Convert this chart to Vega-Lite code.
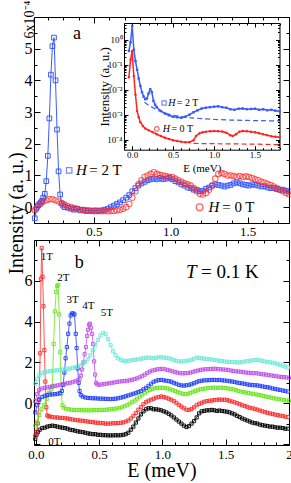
{
"$schema":"https://vega.github.io/schema/vega-lite/v6.json",
"background":"white",
"padding":{"left":5,"top":0,"right":0,"bottom":0},
"spacing":17,
"bounds":"flush",
"config":{
 "font":"Liberation Serif",
 "view":{"stroke":null},
 "axis":{"grid":false,"domainColor":"#000","domainWidth":1,"tickColor":"#000","tickWidth":1,"labelColor":"#000","titleColor":"#000","labelFont":"Liberation Serif","titleFont":"Liberation Serif","titleFontWeight":"normal","labelOverlap":false,"labelFlush":false},
 "text":{"font":"Liberation Serif","color":"#000"}
},
"datasets":{
 "a2T":[
  {"E":0.115,"I":-0.35},{"E":0.125,"I":-0.05},{"E":0.135,"I":0.05},{"E":0.145,"I":0.1},{"E":0.155,"I":0.15},{"E":0.163,"I":0.2},{"E":0.17,"I":0.3},{"E":0.18,"I":0.42},{"E":0.19,"I":0.82},{"E":0.2,"I":1.62},{"E":0.21,"I":2.8},{"E":0.22,"I":4.18},{"E":0.23,"I":5.08},{"E":0.24,"I":5.35},{"E":0.25,"I":4.0},{"E":0.26,"I":2.45},{"E":0.27,"I":1.13},{"E":0.28,"I":0.4},{"E":0.29,"I":0.12},{"E":0.3,"I":0.05},
  {"E":0.31,"I":0.0},{"E":0.33,"I":-0.02},{"E":0.35,"I":-0.05},{"E":0.37,"I":-0.08},{"E":0.39,"I":-0.05},{"E":0.41,"I":-0.1},{"E":0.43,"I":-0.08},{"E":0.45,"I":-0.12},{"E":0.47,"I":-0.1},{"E":0.49,"I":-0.12},{"E":0.51,"I":-0.1},{"E":0.53,"I":-0.12},{"E":0.55,"I":-0.1},{"E":0.57,"I":-0.08},{"E":0.59,"I":-0.05},{"E":0.61,"I":0.0},{"E":0.63,"I":0.05},{"E":0.65,"I":0.1},{"E":0.67,"I":0.15},{"E":0.69,"I":0.22},{"E":0.71,"I":0.3},{"E":0.73,"I":0.38},{"E":0.75,"I":0.5},{"E":0.77,"I":0.6},{"E":0.79,"I":0.68},{"E":0.81,"I":0.75},{"E":0.83,"I":0.8},{"E":0.85,"I":0.85},{"E":0.87,"I":0.88},{"E":0.89,"I":0.9},{"E":0.91,"I":0.88},{"E":0.93,"I":0.92},{"E":0.95,"I":0.88},{"E":0.97,"I":0.9},{"E":0.99,"I":0.92},{"E":1.01,"I":0.88},{"E":1.03,"I":0.82},{"E":1.05,"I":0.78},{"E":1.07,"I":0.72},{"E":1.09,"I":0.68},{"E":1.11,"I":0.62},{"E":1.13,"I":0.6},{"E":1.15,"I":0.55},{"E":1.17,"I":0.55},{"E":1.19,"I":0.5},{"E":1.21,"I":0.52},{"E":1.23,"I":0.58},{"E":1.25,"I":0.62},{"E":1.27,"I":0.68},{"E":1.29,"I":0.72},{"E":1.31,"I":0.7},{"E":1.33,"I":0.68},{"E":1.35,"I":0.65},{"E":1.37,"I":0.68},{"E":1.39,"I":0.7},{"E":1.41,"I":0.75},{"E":1.43,"I":0.78},{"E":1.45,"I":0.75},{"E":1.47,"I":0.72},{"E":1.49,"I":0.7},{"E":1.51,"I":0.68},{"E":1.53,"I":0.72},{"E":1.55,"I":0.7},{"E":1.57,"I":0.68},{"E":1.59,"I":0.65},{"E":1.61,"I":0.66},{"E":1.63,"I":0.62},{"E":1.65,"I":0.6},{"E":1.67,"I":0.6},{"E":1.69,"I":0.57},{"E":1.71,"I":0.55},{"E":1.73,"I":0.55},{"E":1.75,"I":0.52},{"E":1.77,"I":0.5}
 ],
 "a0T":[
  {"E":0.115,"I":-0.1},{"E":0.13,"I":0.0},{"E":0.15,"I":0.1},{"E":0.17,"I":0.18},{"E":0.19,"I":0.22},{"E":0.21,"I":0.25},{"E":0.23,"I":0.25},{"E":0.25,"I":0.22},{"E":0.27,"I":0.18},{"E":0.29,"I":0.12},{"E":0.31,"I":0.08},{"E":0.33,"I":0.03},{"E":0.35,"I":0.0},{"E":0.37,"I":-0.03},{"E":0.39,"I":-0.05},{"E":0.41,"I":-0.08},{"E":0.43,"I":-0.1},{"E":0.45,"I":-0.1},{"E":0.47,"I":-0.12},{"E":0.49,"I":-0.12},{"E":0.51,"I":-0.13},{"E":0.53,"I":-0.12},{"E":0.55,"I":-0.13},{"E":0.57,"I":-0.12},{"E":0.59,"I":-0.13},{"E":0.61,"I":-0.12},{"E":0.63,"I":-0.12},{"E":0.65,"I":-0.1},{"E":0.67,"I":-0.08},{"E":0.69,"I":-0.05},{"E":0.71,"I":0.0},{"E":0.73,"I":0.1},{"E":0.75,"I":0.3},{"E":0.77,"I":0.5},{"E":0.79,"I":0.72},{"E":0.81,"I":0.85},{"E":0.83,"I":0.95},{"E":0.85,"I":1.0},{"E":0.87,"I":1.05},{"E":0.89,"I":1.1},{"E":0.91,"I":1.05},{"E":0.93,"I":1.02},{"E":0.95,"I":1.0},{"E":0.97,"I":0.98},{"E":0.99,"I":0.95},{"E":1.01,"I":0.95},{"E":1.03,"I":0.9},{"E":1.05,"I":0.85},{"E":1.07,"I":0.8},{"E":1.09,"I":0.75},{"E":1.11,"I":0.72},{"E":1.13,"I":0.68},{"E":1.15,"I":0.6},{"E":1.17,"I":0.5},{"E":1.19,"I":0.42},{"E":1.21,"I":0.4},{"E":1.23,"I":0.45},{"E":1.25,"I":0.55},{"E":1.27,"I":0.68},{"E":1.29,"I":0.9},{"E":1.31,"I":1.05},{"E":1.33,"I":1.08},{"E":1.35,"I":1.05},{"E":1.37,"I":1.0},{"E":1.39,"I":1.0},{"E":1.41,"I":0.98},{"E":1.43,"I":0.95},{"E":1.45,"I":0.98},{"E":1.47,"I":0.95},{"E":1.49,"I":0.97},{"E":1.51,"I":0.95},{"E":1.53,"I":0.92},{"E":1.55,"I":0.88},{"E":1.57,"I":0.85},{"E":1.59,"I":0.8},{"E":1.61,"I":0.78},{"E":1.63,"I":0.74},{"E":1.65,"I":0.7},{"E":1.67,"I":0.65},{"E":1.69,"I":0.6},{"E":1.71,"I":0.55},{"E":1.73,"I":0.5},{"E":1.75,"I":0.45},{"E":1.77,"I":0.4}
 ],
 "i2T":[
  {"E":-0.04,"I":0.355},{"E":-0.02,"I":0.794},{"E":0.0,"I":3.55},{"E":0.02,"I":0.398},{"E":0.04,"I":0.141},{"E":0.06,"I":0.0631},{"E":0.08,"I":0.0282},{"E":0.1,"I":0.0141},{"E":0.12,"I":0.00794},{"E":0.14,"I":0.00525},{"E":0.16,"I":0.00417},{"E":0.18,"I":0.00447},{"E":0.2,"I":0.00708},{"E":0.22,"I":0.0105},{"E":0.24,"I":0.00794},{"E":0.26,"I":0.00355},{"E":0.28,"I":0.00251},{"E":0.3,"I":0.002},{"E":0.35,"I":0.00141},{"E":0.4,"I":0.00112},{"E":0.45,"I":0.000955},{"E":0.5,"I":0.000832},{"E":0.55,"I":0.000794},{"E":0.6,"I":0.000759},{"E":0.65,"I":0.000832},{"E":0.7,"I":0.001},{"E":0.75,"I":0.00126},{"E":0.8,"I":0.00151},{"E":0.85,"I":0.00178},{"E":0.9,"I":0.00191},{"E":0.95,"I":0.002},{"E":1.0,"I":0.00209},{"E":1.05,"I":0.00219},{"E":1.1,"I":0.002},{"E":1.15,"I":0.00191},{"E":1.2,"I":0.00166},{"E":1.25,"I":0.00158},{"E":1.3,"I":0.00174},{"E":1.35,"I":0.00178},{"E":1.4,"I":0.00166},{"E":1.45,"I":0.0017},{"E":1.5,"I":0.00174},{"E":1.55,"I":0.00158},{"E":1.6,"I":0.00166},{"E":1.65,"I":0.00151},{"E":1.7,"I":0.00158},{"E":1.75,"I":0.00145},{"E":1.8,"I":0.00138}
 ],
 "i0T":[
  {"E":-0.04,"I":0.0316},{"E":-0.02,"I":0.158},{"E":0.0,"I":0.355},{"E":0.02,"I":0.0355},{"E":0.04,"I":0.0063},{"E":0.06,"I":0.00141},{"E":0.08,"I":0.000794},{"E":0.1,"I":0.0005},{"E":0.13,"I":0.000355},{"E":0.16,"I":0.000282},{"E":0.2,"I":0.00024},{"E":0.25,"I":0.0002},{"E":0.3,"I":0.000166},{"E":0.35,"I":0.000141},{"E":0.4,"I":0.00012},{"E":0.45,"I":0.000107},{"E":0.5,"I":0.0000955},{"E":0.55,"I":0.0000891},{"E":0.6,"I":0.0000832},{"E":0.65,"I":0.0000794},{"E":0.7,"I":0.0000794},{"E":0.75,"I":0.0000955},{"E":0.78,"I":0.000141},{"E":0.82,"I":0.000178},{"E":0.86,"I":0.0002},{"E":0.9,"I":0.000209},{"E":0.95,"I":0.000219},{"E":1.0,"I":0.000224},{"E":1.05,"I":0.000219},{"E":1.1,"I":0.000214},{"E":1.15,"I":0.000191},{"E":1.2,"I":0.000151},{"E":1.23,"I":0.000141},{"E":1.27,"I":0.000166},{"E":1.31,"I":0.000209},{"E":1.35,"I":0.000224},{"E":1.4,"I":0.000219},{"E":1.45,"I":0.000209},{"E":1.5,"I":0.0002},{"E":1.55,"I":0.000182},{"E":1.6,"I":0.000166},{"E":1.65,"I":0.000151},{"E":1.7,"I":0.000138},{"E":1.75,"I":0.000132},{"E":1.8,"I":0.000126}
 ],
 "i2Tfit":[
  {"E":0.15,"I":0.00316},{"E":0.2,"I":0.0024},{"E":0.3,"I":0.00158},{"E":0.4,"I":0.00117},{"E":0.5,"I":0.000955},{"E":0.6,"I":0.000832},{"E":0.7,"I":0.000759},{"E":0.85,"I":0.0007},{"E":1.0,"I":0.000646},{"E":1.2,"I":0.000612},{"E":1.4,"I":0.000589},{"E":1.6,"I":0.000575},{"E":1.8,"I":0.000562}
 ],
 "i0Tfit":[
  {"E":0.75,"I":0.0000708},{"E":1.0,"I":0.0000692},{"E":1.3,"I":0.0000676},{"E":1.55,"I":0.0000661},{"E":1.8,"I":0.0000631}
 ],
 "b":[
  {"s":"0T","E":-0.005,"I":-1.75},{"s":"0T","E":0.005,"I":-1.55},{"s":"0T","E":0.015,"I":-1.42},{"s":"0T","E":0.03,"I":-1.3},{"s":"0T","E":0.05,"I":-1.22},{"s":"0T","E":0.07,"I":-1.2},{"s":"0T","E":0.09,"I":-1.15},{"s":"0T","E":0.11,"I":-1.12},{"s":"0T","E":0.13,"I":-1.1},{"s":"0T","E":0.15,"I":-1.12},{"s":"0T","E":0.17,"I":-1.15},{"s":"0T","E":0.19,"I":-1.18},{"s":"0T","E":0.21,"I":-1.2},{"s":"0T","E":0.23,"I":-1.22},{"s":"0T","E":0.25,"I":-1.25},{"s":"0T","E":0.27,"I":-1.3},{"s":"0T","E":0.29,"I":-1.32},{"s":"0T","E":0.31,"I":-1.35},{"s":"0T","E":0.33,"I":-1.38},{"s":"0T","E":0.35,"I":-1.4},{"s":"0T","E":0.37,"I":-1.42},{"s":"0T","E":0.39,"I":-1.45},{"s":"0T","E":0.41,"I":-1.48},{"s":"0T","E":0.43,"I":-1.5},{"s":"0T","E":0.45,"I":-1.52},{"s":"0T","E":0.47,"I":-1.52},{"s":"0T","E":0.49,"I":-1.55},{"s":"0T","E":0.51,"I":-1.55},{"s":"0T","E":0.53,"I":-1.57},{"s":"0T","E":0.55,"I":-1.57},{"s":"0T","E":0.57,"I":-1.58},{"s":"0T","E":0.59,"I":-1.58},{"s":"0T","E":0.61,"I":-1.58},{"s":"0T","E":0.63,"I":-1.57},{"s":"0T","E":0.65,"I":-1.58},{"s":"0T","E":0.67,"I":-1.57},{"s":"0T","E":0.69,"I":-1.55},{"s":"0T","E":0.71,"I":-1.52},{"s":"0T","E":0.73,"I":-1.45},{"s":"0T","E":0.75,"I":-1.3},{"s":"0T","E":0.77,"I":-1.15},{"s":"0T","E":0.79,"I":-0.95},{"s":"0T","E":0.81,"I":-0.75},{"s":"0T","E":0.83,"I":-0.55},{"s":"0T","E":0.85,"I":-0.4},{"s":"0T","E":0.87,"I":-0.3},{"s":"0T","E":0.89,"I":-0.25},{"s":"0T","E":0.91,"I":-0.25},{"s":"0T","E":0.93,"I":-0.3},{"s":"0T","E":0.95,"I":-0.3},{"s":"0T","E":0.97,"I":-0.32},{"s":"0T","E":0.99,"I":-0.35},{"s":"0T","E":1.01,"I":-0.4},{"s":"0T","E":1.03,"I":-0.45},{"s":"0T","E":1.05,"I":-0.52},{"s":"0T","E":1.07,"I":-0.6},{"s":"0T","E":1.09,"I":-0.7},{"s":"0T","E":1.11,"I":-0.8},{"s":"0T","E":1.13,"I":-0.9},{"s":"0T","E":1.15,"I":-1.0},{"s":"0T","E":1.17,"I":-1.1},{"s":"0T","E":1.19,"I":-1.17},{"s":"0T","E":1.21,"I":-1.12},{"s":"0T","E":1.23,"I":-1.0},{"s":"0T","E":1.25,"I":-0.88},{"s":"0T","E":1.27,"I":-0.7},{"s":"0T","E":1.29,"I":-0.5},{"s":"0T","E":1.31,"I":-0.4},{"s":"0T","E":1.33,"I":-0.38},{"s":"0T","E":1.35,"I":-0.35},{"s":"0T","E":1.37,"I":-0.35},{"s":"0T","E":1.39,"I":-0.33},{"s":"0T","E":1.41,"I":-0.35},{"s":"0T","E":1.43,"I":-0.38},{"s":"0T","E":1.45,"I":-0.36},{"s":"0T","E":1.47,"I":-0.38},{"s":"0T","E":1.49,"I":-0.4},{"s":"0T","E":1.51,"I":-0.42},{"s":"0T","E":1.53,"I":-0.45},{"s":"0T","E":1.55,"I":-0.5},{"s":"0T","E":1.57,"I":-0.55},{"s":"0T","E":1.59,"I":-0.62},{"s":"0T","E":1.61,"I":-0.68},{"s":"0T","E":1.63,"I":-0.75},{"s":"0T","E":1.65,"I":-0.8},{"s":"0T","E":1.67,"I":-0.85},{"s":"0T","E":1.69,"I":-0.9},{"s":"0T","E":1.71,"I":-0.95},{"s":"0T","E":1.73,"I":-0.98},{"s":"0T","E":1.75,"I":-1.0},{"s":"0T","E":1.77,"I":-1.05},{"s":"0T","E":1.79,"I":-1.08},{"s":"0T","E":1.81,"I":-1.1},{"s":"0T","E":1.83,"I":-1.12},{"s":"0T","E":1.85,"I":-1.15},{"s":"0T","E":1.87,"I":-1.15},{"s":"0T","E":1.89,"I":-1.18},{"s":"0T","E":1.91,"I":-1.2},{"s":"0T","E":1.93,"I":-1.2},{"s":"0T","E":1.95,"I":-1.22},{"s":"0T","E":1.97,"I":-1.25},{"s":"0T","E":1.99,"I":-1.25},
  {"s":"1T","E":-0.005,"I":-1.6},{"s":"1T","E":0.005,"I":-1.4},{"s":"1T","E":0.015,"I":-1.0},{"s":"1T","E":0.025,"I":0.2},{"s":"1T","E":0.034,"I":2.45},{"s":"1T","E":0.04,"I":6.1},{"s":"1T","E":0.046,"I":7.6},{"s":"1T","E":0.053,"I":6.2},{"s":"1T","E":0.06,"I":4.75},{"s":"1T","E":0.067,"I":2.6},{"s":"1T","E":0.074,"I":1.06},{"s":"1T","E":0.082,"I":-0.2},{"s":"1T","E":0.09,"I":-0.6},{"s":"1T","E":0.1,"I":-0.65},{"s":"1T","E":0.11,"I":-0.65},{"s":"1T","E":0.13,"I":-0.68},{"s":"1T","E":0.15,"I":-0.7},{"s":"1T","E":0.17,"I":-0.7},{"s":"1T","E":0.19,"I":-0.72},{"s":"1T","E":0.21,"I":-0.72},{"s":"1T","E":0.23,"I":-0.74},{"s":"1T","E":0.25,"I":-0.75},{"s":"1T","E":0.27,"I":-0.78},{"s":"1T","E":0.29,"I":-0.8},{"s":"1T","E":0.31,"I":-0.82},{"s":"1T","E":0.33,"I":-0.84},{"s":"1T","E":0.35,"I":-0.85},{"s":"1T","E":0.37,"I":-0.86},{"s":"1T","E":0.39,"I":-0.88},{"s":"1T","E":0.41,"I":-0.9},{"s":"1T","E":0.43,"I":-0.92},{"s":"1T","E":0.45,"I":-0.93},{"s":"1T","E":0.47,"I":-0.95},{"s":"1T","E":0.49,"I":-0.96},{"s":"1T","E":0.51,"I":-0.97},{"s":"1T","E":0.53,"I":-0.98},{"s":"1T","E":0.55,"I":-1.0},{"s":"1T","E":0.57,"I":-1.0},{"s":"1T","E":0.59,"I":-1.0},{"s":"1T","E":0.61,"I":-0.98},{"s":"1T","E":0.63,"I":-0.98},{"s":"1T","E":0.65,"I":-0.97},{"s":"1T","E":0.67,"I":-0.96},{"s":"1T","E":0.69,"I":-0.94},{"s":"1T","E":0.71,"I":-0.9},{"s":"1T","E":0.73,"I":-0.85},{"s":"1T","E":0.75,"I":-0.75},{"s":"1T","E":0.77,"I":-0.62},{"s":"1T","E":0.79,"I":-0.48},{"s":"1T","E":0.81,"I":-0.32},{"s":"1T","E":0.83,"I":-0.18},{"s":"1T","E":0.85,"I":-0.05},{"s":"1T","E":0.87,"I":0.05},{"s":"1T","E":0.89,"I":0.12},{"s":"1T","E":0.91,"I":0.17},{"s":"1T","E":0.93,"I":0.22},{"s":"1T","E":0.95,"I":0.27},{"s":"1T","E":0.97,"I":0.3},{"s":"1T","E":0.99,"I":0.33},{"s":"1T","E":1.01,"I":0.3},{"s":"1T","E":1.03,"I":0.27},{"s":"1T","E":1.05,"I":0.22},{"s":"1T","E":1.07,"I":0.17},{"s":"1T","E":1.09,"I":0.1},{"s":"1T","E":1.11,"I":0.02},{"s":"1T","E":1.13,"I":-0.08},{"s":"1T","E":1.15,"I":-0.17},{"s":"1T","E":1.17,"I":-0.25},{"s":"1T","E":1.19,"I":-0.32},{"s":"1T","E":1.21,"I":-0.33},{"s":"1T","E":1.23,"I":-0.28},{"s":"1T","E":1.25,"I":-0.2},{"s":"1T","E":1.27,"I":-0.1},{"s":"1T","E":1.29,"I":-0.03},{"s":"1T","E":1.31,"I":0.02},{"s":"1T","E":1.33,"I":0.07},{"s":"1T","E":1.35,"I":0.1},{"s":"1T","E":1.37,"I":0.12},{"s":"1T","E":1.39,"I":0.13},{"s":"1T","E":1.41,"I":0.15},{"s":"1T","E":1.43,"I":0.17},{"s":"1T","E":1.45,"I":0.18},{"s":"1T","E":1.47,"I":0.17},{"s":"1T","E":1.49,"I":0.17},{"s":"1T","E":1.51,"I":0.15},{"s":"1T","E":1.53,"I":0.12},{"s":"1T","E":1.55,"I":0.08},{"s":"1T","E":1.57,"I":0.04},{"s":"1T","E":1.59,"I":0.0},{"s":"1T","E":1.61,"I":-0.05},{"s":"1T","E":1.63,"I":-0.1},{"s":"1T","E":1.65,"I":-0.14},{"s":"1T","E":1.67,"I":-0.18},{"s":"1T","E":1.69,"I":-0.22},{"s":"1T","E":1.71,"I":-0.25},{"s":"1T","E":1.73,"I":-0.28},{"s":"1T","E":1.75,"I":-0.32},{"s":"1T","E":1.77,"I":-0.36},{"s":"1T","E":1.79,"I":-0.4},{"s":"1T","E":1.81,"I":-0.44},{"s":"1T","E":1.83,"I":-0.47},{"s":"1T","E":1.85,"I":-0.5},{"s":"1T","E":1.87,"I":-0.53},{"s":"1T","E":1.89,"I":-0.56},{"s":"1T","E":1.91,"I":-0.58},{"s":"1T","E":1.93,"I":-0.61},{"s":"1T","E":1.95,"I":-0.63},{"s":"1T","E":1.97,"I":-0.66},{"s":"1T","E":1.99,"I":-0.68},
  {"s":"2T","E":-0.005,"I":-1.1},{"s":"2T","E":0.01,"I":-0.9},{"s":"2T","E":0.026,"I":-0.58},{"s":"2T","E":0.045,"I":-0.3},{"s":"2T","E":0.066,"I":-0.08},{"s":"2T","E":0.085,"I":0.2},{"s":"2T","E":0.105,"I":0.5},{"s":"2T","E":0.12,"I":0.68},{"s":"2T","E":0.13,"I":0.8},{"s":"2T","E":0.14,"I":2.9},{"s":"2T","E":0.15,"I":4.5},{"s":"2T","E":0.16,"I":5.45},{"s":"2T","E":0.168,"I":5.75},{"s":"2T","E":0.176,"I":5.8},{"s":"2T","E":0.184,"I":4.35},{"s":"2T","E":0.192,"I":2.5},{"s":"2T","E":0.2,"I":0.45},{"s":"2T","E":0.21,"I":-0.1},{"s":"2T","E":0.22,"I":-0.22},{"s":"2T","E":0.24,"I":-0.28},{"s":"2T","E":0.26,"I":-0.3},{"s":"2T","E":0.28,"I":-0.32},{"s":"2T","E":0.3,"I":-0.33},{"s":"2T","E":0.32,"I":-0.33},{"s":"2T","E":0.34,"I":-0.34},{"s":"2T","E":0.36,"I":-0.34},{"s":"2T","E":0.38,"I":-0.35},{"s":"2T","E":0.4,"I":-0.35},{"s":"2T","E":0.42,"I":-0.35},{"s":"2T","E":0.44,"I":-0.35},{"s":"2T","E":0.46,"I":-0.34},{"s":"2T","E":0.48,"I":-0.34},{"s":"2T","E":0.5,"I":-0.34},{"s":"2T","E":0.52,"I":-0.33},{"s":"2T","E":0.54,"I":-0.33},{"s":"2T","E":0.56,"I":-0.32},{"s":"2T","E":0.58,"I":-0.3},{"s":"2T","E":0.6,"I":-0.3},{"s":"2T","E":0.62,"I":-0.28},{"s":"2T","E":0.64,"I":-0.26},{"s":"2T","E":0.66,"I":-0.24},{"s":"2T","E":0.68,"I":-0.2},{"s":"2T","E":0.7,"I":-0.15},{"s":"2T","E":0.72,"I":-0.1},{"s":"2T","E":0.74,"I":-0.02},{"s":"2T","E":0.76,"I":0.05},{"s":"2T","E":0.78,"I":0.12},{"s":"2T","E":0.8,"I":0.22},{"s":"2T","E":0.82,"I":0.32},{"s":"2T","E":0.84,"I":0.42},{"s":"2T","E":0.86,"I":0.5},{"s":"2T","E":0.88,"I":0.58},{"s":"2T","E":0.9,"I":0.65},{"s":"2T","E":0.92,"I":0.7},{"s":"2T","E":0.94,"I":0.73},{"s":"2T","E":0.96,"I":0.75},{"s":"2T","E":0.98,"I":0.76},{"s":"2T","E":1.0,"I":0.75},{"s":"2T","E":1.02,"I":0.74},{"s":"2T","E":1.04,"I":0.72},{"s":"2T","E":1.06,"I":0.68},{"s":"2T","E":1.08,"I":0.64},{"s":"2T","E":1.1,"I":0.6},{"s":"2T","E":1.12,"I":0.55},{"s":"2T","E":1.14,"I":0.5},{"s":"2T","E":1.16,"I":0.46},{"s":"2T","E":1.18,"I":0.44},{"s":"2T","E":1.2,"I":0.46},{"s":"2T","E":1.22,"I":0.5},{"s":"2T","E":1.24,"I":0.56},{"s":"2T","E":1.26,"I":0.6},{"s":"2T","E":1.28,"I":0.64},{"s":"2T","E":1.3,"I":0.68},{"s":"2T","E":1.32,"I":0.7},{"s":"2T","E":1.34,"I":0.72},{"s":"2T","E":1.36,"I":0.74},{"s":"2T","E":1.38,"I":0.75},{"s":"2T","E":1.4,"I":0.76},{"s":"2T","E":1.42,"I":0.76},{"s":"2T","E":1.44,"I":0.75},{"s":"2T","E":1.46,"I":0.76},{"s":"2T","E":1.48,"I":0.75},{"s":"2T","E":1.5,"I":0.74},{"s":"2T","E":1.52,"I":0.72},{"s":"2T","E":1.54,"I":0.7},{"s":"2T","E":1.56,"I":0.68},{"s":"2T","E":1.58,"I":0.64},{"s":"2T","E":1.6,"I":0.6},{"s":"2T","E":1.62,"I":0.57},{"s":"2T","E":1.64,"I":0.54},{"s":"2T","E":1.66,"I":0.52},{"s":"2T","E":1.68,"I":0.5},{"s":"2T","E":1.7,"I":0.47},{"s":"2T","E":1.72,"I":0.45},{"s":"2T","E":1.74,"I":0.43},{"s":"2T","E":1.76,"I":0.4},{"s":"2T","E":1.78,"I":0.38},{"s":"2T","E":1.8,"I":0.35},{"s":"2T","E":1.82,"I":0.32},{"s":"2T","E":1.84,"I":0.3},{"s":"2T","E":1.86,"I":0.27},{"s":"2T","E":1.88,"I":0.24},{"s":"2T","E":1.9,"I":0.22},{"s":"2T","E":1.92,"I":0.2},{"s":"2T","E":1.94,"I":0.18},{"s":"2T","E":1.96,"I":0.15},{"s":"2T","E":1.98,"I":0.13},{"s":"2T","E":2.0,"I":0.12},
  {"s":"3T","E":-0.005,"I":-0.45},{"s":"3T","E":0.01,"I":-0.1},{"s":"3T","E":0.026,"I":0.16},{"s":"3T","E":0.05,"I":0.3},{"s":"3T","E":0.07,"I":0.36},{"s":"3T","E":0.09,"I":0.4},{"s":"3T","E":0.11,"I":0.42},{"s":"3T","E":0.13,"I":0.43},{"s":"3T","E":0.15,"I":0.44},{"s":"3T","E":0.17,"I":0.46},{"s":"3T","E":0.19,"I":0.5},{"s":"3T","E":0.205,"I":0.6},{"s":"3T","E":0.215,"I":0.9},{"s":"3T","E":0.225,"I":1.5},{"s":"3T","E":0.235,"I":2.2},{"s":"3T","E":0.245,"I":2.75},{"s":"3T","E":0.255,"I":3.4},{"s":"3T","E":0.265,"I":3.9},{"s":"3T","E":0.275,"I":4.3},{"s":"3T","E":0.285,"I":4.4},{"s":"3T","E":0.295,"I":4.4},{"s":"3T","E":0.305,"I":4.35},{"s":"3T","E":0.315,"I":3.4},{"s":"3T","E":0.322,"I":2.7},{"s":"3T","E":0.33,"I":1.7},{"s":"3T","E":0.338,"I":1.0},{"s":"3T","E":0.345,"I":0.6},{"s":"3T","E":0.355,"I":0.4},{"s":"3T","E":0.37,"I":0.32},{"s":"3T","E":0.39,"I":0.28},{"s":"3T","E":0.41,"I":0.26},{"s":"3T","E":0.43,"I":0.25},{"s":"3T","E":0.45,"I":0.24},{"s":"3T","E":0.47,"I":0.24},{"s":"3T","E":0.49,"I":0.23},{"s":"3T","E":0.51,"I":0.22},{"s":"3T","E":0.53,"I":0.22},{"s":"3T","E":0.55,"I":0.21},{"s":"3T","E":0.57,"I":0.21},{"s":"3T","E":0.59,"I":0.2},{"s":"3T","E":0.61,"I":0.21},{"s":"3T","E":0.63,"I":0.22},{"s":"3T","E":0.65,"I":0.24},{"s":"3T","E":0.67,"I":0.27},{"s":"3T","E":0.69,"I":0.3},{"s":"3T","E":0.71,"I":0.34},{"s":"3T","E":0.73,"I":0.38},{"s":"3T","E":0.75,"I":0.42},{"s":"3T","E":0.77,"I":0.46},{"s":"3T","E":0.79,"I":0.5},{"s":"3T","E":0.81,"I":0.55},{"s":"3T","E":0.83,"I":0.6},{"s":"3T","E":0.85,"I":0.68},{"s":"3T","E":0.87,"I":0.75},{"s":"3T","E":0.89,"I":0.85},{"s":"3T","E":0.91,"I":0.95},{"s":"3T","E":0.93,"I":1.05},{"s":"3T","E":0.95,"I":1.1},{"s":"3T","E":0.97,"I":1.13},{"s":"3T","E":0.99,"I":1.14},{"s":"3T","E":1.01,"I":1.12},{"s":"3T","E":1.03,"I":1.1},{"s":"3T","E":1.05,"I":1.08},{"s":"3T","E":1.07,"I":1.05},{"s":"3T","E":1.09,"I":1.0},{"s":"3T","E":1.11,"I":0.95},{"s":"3T","E":1.13,"I":0.9},{"s":"3T","E":1.15,"I":0.87},{"s":"3T","E":1.17,"I":0.86},{"s":"3T","E":1.19,"I":0.88},{"s":"3T","E":1.21,"I":0.9},{"s":"3T","E":1.23,"I":0.93},{"s":"3T","E":1.25,"I":0.98},{"s":"3T","E":1.27,"I":1.03},{"s":"3T","E":1.29,"I":1.08},{"s":"3T","E":1.31,"I":1.1},{"s":"3T","E":1.33,"I":1.12},{"s":"3T","E":1.35,"I":1.12},{"s":"3T","E":1.37,"I":1.13},{"s":"3T","E":1.39,"I":1.14},{"s":"3T","E":1.41,"I":1.14},{"s":"3T","E":1.43,"I":1.13},{"s":"3T","E":1.45,"I":1.14},{"s":"3T","E":1.47,"I":1.12},{"s":"3T","E":1.49,"I":1.11},{"s":"3T","E":1.51,"I":1.1},{"s":"3T","E":1.53,"I":1.08},{"s":"3T","E":1.55,"I":1.06},{"s":"3T","E":1.57,"I":1.04},{"s":"3T","E":1.59,"I":1.01},{"s":"3T","E":1.61,"I":0.99},{"s":"3T","E":1.63,"I":0.97},{"s":"3T","E":1.65,"I":0.95},{"s":"3T","E":1.67,"I":0.92},{"s":"3T","E":1.69,"I":0.9},{"s":"3T","E":1.71,"I":0.89},{"s":"3T","E":1.73,"I":0.88},{"s":"3T","E":1.75,"I":0.87},{"s":"3T","E":1.77,"I":0.85},{"s":"3T","E":1.79,"I":0.82},{"s":"3T","E":1.81,"I":0.8},{"s":"3T","E":1.83,"I":0.78},{"s":"3T","E":1.85,"I":0.76},{"s":"3T","E":1.87,"I":0.72},{"s":"3T","E":1.89,"I":0.7},{"s":"3T","E":1.91,"I":0.67},{"s":"3T","E":1.93,"I":0.65},{"s":"3T","E":1.95,"I":0.62},{"s":"3T","E":1.97,"I":0.6},{"s":"3T","E":1.99,"I":0.57},
  {"s":"4T","E":-0.005,"I":0.1},{"s":"4T","E":0.01,"I":0.45},{"s":"4T","E":0.026,"I":0.65},{"s":"4T","E":0.05,"I":0.72},{"s":"4T","E":0.07,"I":0.75},{"s":"4T","E":0.09,"I":0.77},{"s":"4T","E":0.11,"I":0.8},{"s":"4T","E":0.13,"I":0.82},{"s":"4T","E":0.15,"I":0.85},{"s":"4T","E":0.17,"I":0.87},{"s":"4T","E":0.19,"I":0.9},{"s":"4T","E":0.21,"I":0.93},{"s":"4T","E":0.23,"I":0.96},{"s":"4T","E":0.25,"I":0.98},{"s":"4T","E":0.27,"I":1.0},{"s":"4T","E":0.29,"I":1.03},{"s":"4T","E":0.31,"I":1.07},{"s":"4T","E":0.33,"I":1.12},{"s":"4T","E":0.345,"I":1.2},{"s":"4T","E":0.355,"I":1.35},{"s":"4T","E":0.365,"I":1.65},{"s":"4T","E":0.375,"I":2.0},{"s":"4T","E":0.385,"I":2.4},{"s":"4T","E":0.395,"I":2.75},{"s":"4T","E":0.405,"I":3.3},{"s":"4T","E":0.412,"I":3.6},{"s":"4T","E":0.42,"I":3.85},{"s":"4T","E":0.428,"I":3.9},{"s":"4T","E":0.436,"I":3.7},{"s":"4T","E":0.444,"I":3.4},{"s":"4T","E":0.452,"I":2.9},{"s":"4T","E":0.46,"I":2.05},{"s":"4T","E":0.468,"I":1.4},{"s":"4T","E":0.476,"I":1.0},{"s":"4T","E":0.485,"I":0.92},{"s":"4T","E":0.5,"I":0.9},{"s":"4T","E":0.52,"I":0.92},{"s":"4T","E":0.54,"I":0.94},{"s":"4T","E":0.56,"I":0.96},{"s":"4T","E":0.58,"I":0.98},{"s":"4T","E":0.6,"I":1.0},{"s":"4T","E":0.62,"I":1.02},{"s":"4T","E":0.64,"I":1.04},{"s":"4T","E":0.66,"I":1.06},{"s":"4T","E":0.68,"I":1.08},{"s":"4T","E":0.7,"I":1.08},{"s":"4T","E":0.72,"I":1.1},{"s":"4T","E":0.74,"I":1.12},{"s":"4T","E":0.76,"I":1.15},{"s":"4T","E":0.78,"I":1.18},{"s":"4T","E":0.8,"I":1.22},{"s":"4T","E":0.82,"I":1.27},{"s":"4T","E":0.84,"I":1.33},{"s":"4T","E":0.86,"I":1.4},{"s":"4T","E":0.88,"I":1.48},{"s":"4T","E":0.9,"I":1.55},{"s":"4T","E":0.92,"I":1.6},{"s":"4T","E":0.94,"I":1.63},{"s":"4T","E":0.96,"I":1.66},{"s":"4T","E":0.98,"I":1.68},{"s":"4T","E":1.0,"I":1.68},{"s":"4T","E":1.02,"I":1.66},{"s":"4T","E":1.04,"I":1.63},{"s":"4T","E":1.06,"I":1.6},{"s":"4T","E":1.08,"I":1.56},{"s":"4T","E":1.1,"I":1.52},{"s":"4T","E":1.12,"I":1.5},{"s":"4T","E":1.14,"I":1.47},{"s":"4T","E":1.16,"I":1.46},{"s":"4T","E":1.18,"I":1.47},{"s":"4T","E":1.2,"I":1.48},{"s":"4T","E":1.22,"I":1.5},{"s":"4T","E":1.24,"I":1.53},{"s":"4T","E":1.26,"I":1.57},{"s":"4T","E":1.28,"I":1.6},{"s":"4T","E":1.3,"I":1.63},{"s":"4T","E":1.32,"I":1.65},{"s":"4T","E":1.34,"I":1.66},{"s":"4T","E":1.36,"I":1.67},{"s":"4T","E":1.38,"I":1.68},{"s":"4T","E":1.4,"I":1.68},{"s":"4T","E":1.42,"I":1.69},{"s":"4T","E":1.44,"I":1.67},{"s":"4T","E":1.46,"I":1.66},{"s":"4T","E":1.48,"I":1.65},{"s":"4T","E":1.5,"I":1.64},{"s":"4T","E":1.52,"I":1.63},{"s":"4T","E":1.54,"I":1.6},{"s":"4T","E":1.56,"I":1.58},{"s":"4T","E":1.58,"I":1.56},{"s":"4T","E":1.6,"I":1.55},{"s":"4T","E":1.62,"I":1.54},{"s":"4T","E":1.64,"I":1.52},{"s":"4T","E":1.66,"I":1.5},{"s":"4T","E":1.68,"I":1.49},{"s":"4T","E":1.7,"I":1.48},{"s":"4T","E":1.72,"I":1.47},{"s":"4T","E":1.74,"I":1.47},{"s":"4T","E":1.76,"I":1.45},{"s":"4T","E":1.78,"I":1.43},{"s":"4T","E":1.8,"I":1.41},{"s":"4T","E":1.82,"I":1.4},{"s":"4T","E":1.84,"I":1.38},{"s":"4T","E":1.86,"I":1.36},{"s":"4T","E":1.88,"I":1.34},{"s":"4T","E":1.9,"I":1.32},{"s":"4T","E":1.92,"I":1.3},{"s":"4T","E":1.94,"I":1.29},{"s":"4T","E":1.96,"I":1.28},{"s":"4T","E":1.98,"I":1.26},{"s":"4T","E":2.0,"I":1.25},
  {"s":"5T","E":-0.005,"I":0.95},{"s":"5T","E":0.01,"I":1.2},{"s":"5T","E":0.026,"I":1.38},{"s":"5T","E":0.05,"I":1.48},{"s":"5T","E":0.07,"I":1.52},{"s":"5T","E":0.09,"I":1.55},{"s":"5T","E":0.11,"I":1.57},{"s":"5T","E":0.13,"I":1.58},{"s":"5T","E":0.15,"I":1.6},{"s":"5T","E":0.17,"I":1.61},{"s":"5T","E":0.19,"I":1.62},{"s":"5T","E":0.21,"I":1.64},{"s":"5T","E":0.23,"I":1.66},{"s":"5T","E":0.25,"I":1.68},{"s":"5T","E":0.27,"I":1.7},{"s":"5T","E":0.29,"I":1.73},{"s":"5T","E":0.31,"I":1.76},{"s":"5T","E":0.33,"I":1.8},{"s":"5T","E":0.35,"I":1.85},{"s":"5T","E":0.37,"I":1.92},{"s":"5T","E":0.39,"I":2.02},{"s":"5T","E":0.41,"I":2.15},{"s":"5T","E":0.43,"I":2.35},{"s":"5T","E":0.45,"I":2.6},{"s":"5T","E":0.47,"I":2.86},{"s":"5T","E":0.49,"I":3.1},{"s":"5T","E":0.51,"I":3.32},{"s":"5T","E":0.53,"I":3.45},{"s":"5T","E":0.55,"I":3.4},{"s":"5T","E":0.57,"I":3.15},{"s":"5T","E":0.59,"I":2.85},{"s":"5T","E":0.61,"I":2.55},{"s":"5T","E":0.63,"I":2.35},{"s":"5T","E":0.65,"I":2.2},{"s":"5T","E":0.67,"I":2.12},{"s":"5T","E":0.69,"I":2.08},{"s":"5T","E":0.71,"I":2.07},{"s":"5T","E":0.73,"I":2.08},{"s":"5T","E":0.75,"I":2.1},{"s":"5T","E":0.77,"I":2.12},{"s":"5T","E":0.79,"I":2.13},{"s":"5T","E":0.81,"I":2.15},{"s":"5T","E":0.83,"I":2.18},{"s":"5T","E":0.85,"I":2.2},{"s":"5T","E":0.87,"I":2.22},{"s":"5T","E":0.89,"I":2.24},{"s":"5T","E":0.91,"I":2.22},{"s":"5T","E":0.93,"I":2.2},{"s":"5T","E":0.95,"I":2.22},{"s":"5T","E":0.97,"I":2.25},{"s":"5T","E":0.99,"I":2.25},{"s":"5T","E":1.01,"I":2.24},{"s":"5T","E":1.03,"I":2.22},{"s":"5T","E":1.05,"I":2.2},{"s":"5T","E":1.07,"I":2.16},{"s":"5T","E":1.09,"I":2.12},{"s":"5T","E":1.11,"I":2.08},{"s":"5T","E":1.13,"I":2.05},{"s":"5T","E":1.15,"I":2.04},{"s":"5T","E":1.17,"I":2.06},{"s":"5T","E":1.19,"I":2.08},{"s":"5T","E":1.21,"I":2.1},{"s":"5T","E":1.23,"I":2.12},{"s":"5T","E":1.25,"I":2.18},{"s":"5T","E":1.27,"I":2.24},{"s":"5T","E":1.29,"I":2.22},{"s":"5T","E":1.31,"I":2.2},{"s":"5T","E":1.33,"I":2.18},{"s":"5T","E":1.35,"I":2.17},{"s":"5T","E":1.37,"I":2.16},{"s":"5T","E":1.39,"I":2.14},{"s":"5T","E":1.41,"I":2.12},{"s":"5T","E":1.43,"I":2.1},{"s":"5T","E":1.45,"I":2.08},{"s":"5T","E":1.47,"I":2.06},{"s":"5T","E":1.49,"I":2.04},{"s":"5T","E":1.51,"I":2.03},{"s":"5T","E":1.53,"I":2.02},{"s":"5T","E":1.55,"I":2.02},{"s":"5T","E":1.57,"I":2.01},{"s":"5T","E":1.59,"I":2.0},{"s":"5T","E":1.61,"I":2.0},{"s":"5T","E":1.63,"I":2.02},{"s":"5T","E":1.65,"I":2.04},{"s":"5T","E":1.67,"I":2.06},{"s":"5T","E":1.69,"I":2.08},{"s":"5T","E":1.71,"I":2.1},{"s":"5T","E":1.73,"I":2.12},{"s":"5T","E":1.75,"I":2.12},{"s":"5T","E":1.77,"I":2.1},{"s":"5T","E":1.79,"I":2.07},{"s":"5T","E":1.81,"I":2.04},{"s":"5T","E":1.83,"I":2.02},{"s":"5T","E":1.85,"I":2.0},{"s":"5T","E":1.87,"I":1.98},{"s":"5T","E":1.89,"I":1.96},{"s":"5T","E":1.91,"I":1.92},{"s":"5T","E":1.93,"I":1.88},{"s":"5T","E":1.95,"I":1.84},{"s":"5T","E":1.97,"I":1.8},{"s":"5T","E":1.99,"I":1.75}
 ]
},
"vconcat":[
 {
  "width":255,"height":206,
  "layer":[
   {"layer":[
     {"data":{"name":"a2T"},
      "mark":{"type":"line","color":"#3b5cff","strokeWidth":1,"point":{"shape":"square","filled":false,"size":22,"strokeWidth":1,"color":"#3b5cff"}},
      "encoding":{
       "x":{"field":"E","type":"quantitative","scale":{"domain":[0.11,1.77],"nice":false,"zero":false},
            "axis":{"orient":"bottom","values":[0.2,0.3,0.4,0.5,0.6,0.7,0.8,0.9,1.0,1.1,1.2,1.3,1.4,1.5,1.6,1.7],"labelExpr":"abs(datum.value*2-round(datum.value*2))<0.001 ? format(datum.value,'.1f') : ''","tickSize":{"condition":{"test":"abs(datum.value*2-round(datum.value*2))<0.001","value":-6},"value":-3},"labelPadding":8,"labelFontSize":13,"title":null}},
       "y":{"field":"I","type":"quantitative","scale":{"domain":[-0.5,6],"nice":false,"zero":false},
            "axis":{"orient":"left","values":[-0.5,0,0.5,1,1.5,2,2.5,3,3.5,4,4.5,5,5.5,6],"labelExpr":"datum.value>=0 && datum.value<=5 && datum.value==round(datum.value) ? format(datum.value,'d') : ''","tickSize":{"condition":{"test":"datum.value==round(datum.value)","value":-6},"value":-3},"labelPadding":8,"labelFontSize":16,"title":"6x10⁻⁴","titleFontSize":14,"titleAngle":-90,"titleX":-1,"titleY":2,"titleAlign":"center","titleBaseline":"alphabetic"}}}},
     {"data":{"name":"a0T"},
      "mark":{"type":"point","shape":"circle","filled":false,"size":30,"strokeWidth":1.1,"color":"#ff2424"},
      "encoding":{
       "x":{"field":"E","type":"quantitative","axis":{"orient":"top","values":[0.2,0.3,0.4,0.5,0.6,0.7,0.8,0.9,1.0,1.1,1.2,1.3,1.4,1.5,1.6,1.7],"labels":false,"tickSize":{"condition":{"test":"abs(datum.value*2-round(datum.value*2))<0.001","value":-6},"value":-3},"title":null}},
       "y":{"field":"I","type":"quantitative","axis":{"orient":"right","values":[-0.5,0,0.5,1,1.5,2,2.5,3,3.5,4,4.5,5,5.5,6],"labels":false,"tickSize":{"condition":{"test":"datum.value==round(datum.value)","value":-6},"value":-3},"title":null}}}},
     {"data":{"values":[{}]},"mark":{"type":"text","text":"a","fontSize":18,"align":"center","baseline":"middle"},
      "encoding":{"x":{"datum":0.39,"type":"quantitative","axis":null},"y":{"datum":5.47,"type":"quantitative","axis":null}}},
     {"data":{"values":[{}]},"mark":{"type":"point","shape":"square","filled":false,"size":30,"strokeWidth":1.2,"color":"#3b5cff"},
      "encoding":{"x":{"datum":0.339,"type":"quantitative","axis":null},"y":{"datum":1.16,"type":"quantitative","axis":null}}},
     {"data":{"values":[{}]},"mark":{"type":"text","text":"H","fontSize":15,"fontStyle":"italic","align":"left","baseline":"middle"},
      "encoding":{"x":{"datum":0.383,"type":"quantitative","axis":null},"y":{"datum":1.16,"type":"quantitative","axis":null}}},
     {"data":{"values":[{}]},"mark":{"type":"text","text":"= 2 T","fontSize":15,"align":"left","baseline":"middle"},
      "encoding":{"x":{"datum":0.47,"type":"quantitative","axis":null},"y":{"datum":1.16,"type":"quantitative","axis":null}}},
     {"data":{"values":[{}]},"mark":{"type":"point","shape":"circle","filled":false,"size":45,"strokeWidth":1.3,"color":"#ff2424"},
      "encoding":{"x":{"datum":1.188,"type":"quantitative","axis":null},"y":{"datum":0.0,"type":"quantitative","axis":null}}},
     {"data":{"values":[{}]},"mark":{"type":"text","text":"H","fontSize":15,"fontStyle":"italic","align":"left","baseline":"middle"},
      "encoding":{"x":{"datum":1.246,"type":"quantitative","axis":null},"y":{"datum":0.0,"type":"quantitative","axis":null}}},
     {"data":{"values":[{}]},"mark":{"type":"text","text":"= 0 T","fontSize":15,"align":"left","baseline":"middle"},
      "encoding":{"x":{"datum":1.335,"type":"quantitative","axis":null},"y":{"datum":0.0,"type":"quantitative","axis":null}}}
   ]},
   {"layer":[
     {"data":{"name":"i2T"},
      "mark":{"type":"line","color":"#3b5cff","strokeWidth":1.5,"point":{"shape":"square","filled":true,"size":6,"color":"#3b5cff"}},
      "encoding":{
       "x":{"field":"E","type":"quantitative","scale":{"domain":[-0.1,1.8],"range":[90,245.5],"nice":false,"zero":false},
            "axis":{"orient":"bottom","offset":-73.3,"values":[-0.1,0,0.1,0.2,0.3,0.4,0.5,0.6,0.7,0.8,0.9,1.0,1.1,1.2,1.3,1.4,1.5,1.6,1.7,1.8],"labelExpr":"abs(datum.value*2-round(datum.value*2))<0.001 ? format(datum.value,'.1f') : ''","tickSize":{"condition":{"test":"abs(datum.value*2-round(datum.value*2))<0.001","value":-4},"value":-2},"labelPadding":5,"labelFontSize":9,"title":"E (meV)","titleFontSize":11,"titleY":22,"titleBaseline":"alphabetic"}},
       "y":{"field":"I","type":"quantitative","scale":{"type":"log","domain":[0.0000398,4.68],"range":[132.7,6],"nice":false},
            "axis":{"orient":"left","offset":-90,"values":[0.00005,0.00006,0.00007,0.00008,0.00009,0.0001,0.0002,0.0003,0.0004,0.0005,0.0006,0.0007,0.0008,0.0009,0.001,0.002,0.003,0.004,0.005,0.006,0.007,0.008,0.009,0.01,0.02,0.03,0.04,0.05,0.06,0.07,0.08,0.09,0.1,0.2,0.3,0.4,0.5,0.6,0.7,0.8,0.9,1,2,3,4],"labelExpr":"datum.value==1?'10⁰':datum.value==0.1?'10⁻¹':datum.value==0.01?'10⁻²':datum.value==0.001?'10⁻³':datum.value==0.0001?'10⁻⁴':''","tickSize":{"condition":{"test":"abs(log(datum.value)/LN10-round(log(datum.value)/LN10))<0.001","value":-4},"value":-2},"labelPadding":6,"labelFontSize":9,"title":"Intensity (a. u.)","titleFontSize":13,"titleX":-16,"titleBaseline":"alphabetic"}}}},
     {"data":{"name":"i0T"},
      "mark":{"type":"line","color":"#ff2424","strokeWidth":1.5,"point":{"shape":"circle","filled":true,"size":6,"color":"#ff2424"}},
      "encoding":{
       "x":{"field":"E","type":"quantitative","axis":{"orient":"top","offset":-6,"values":[-0.1,0,0.1,0.2,0.3,0.4,0.5,0.6,0.7,0.8,0.9,1.0,1.1,1.2,1.3,1.4,1.5,1.6,1.7,1.8],"labels":false,"tickSize":{"condition":{"test":"abs(datum.value*2-round(datum.value*2))<0.001","value":-4},"value":-2},"title":null}},
       "y":{"field":"I","type":"quantitative","axis":{"orient":"right","offset":-9.5,"values":[0.00005,0.00006,0.00007,0.00008,0.00009,0.0001,0.0002,0.0003,0.0004,0.0005,0.0006,0.0007,0.0008,0.0009,0.001,0.002,0.003,0.004,0.005,0.006,0.007,0.008,0.009,0.01,0.02,0.03,0.04,0.05,0.06,0.07,0.08,0.09,0.1,0.2,0.3,0.4,0.5,0.6,0.7,0.8,0.9,1,2,3,4],"labels":false,"tickSize":{"condition":{"test":"abs(log(datum.value)/LN10-round(log(datum.value)/LN10))<0.001","value":-4},"value":-2},"title":null}}}},
     {"data":{"name":"i2Tfit"},"mark":{"type":"line","color":"#3b5cff","strokeWidth":1.2,"strokeDash":[5,3]},
      "encoding":{"x":{"field":"E","type":"quantitative","axis":null},"y":{"field":"I","type":"quantitative","axis":null}}},
     {"data":{"name":"i0Tfit"},"mark":{"type":"line","color":"#ff2424","strokeWidth":1.2,"strokeDash":[5,3]},
      "encoding":{"x":{"field":"E","type":"quantitative","axis":null},"y":{"field":"I","type":"quantitative","axis":null}}},
     {"data":{"values":[{}]},"mark":{"type":"point","shape":"square","filled":false,"size":18,"strokeWidth":1.2,"color":"#3b5cff"},
      "encoding":{"x":{"datum":0.39,"type":"quantitative","axis":null},"y":{"datum":0.00295,"type":"quantitative","axis":null}}},
     {"data":{"values":[{}]},"mark":{"type":"text","text":"H","fontSize":10,"fontStyle":"italic","align":"left","baseline":"middle"},
      "encoding":{"x":{"datum":0.44,"type":"quantitative","axis":null},"y":{"datum":0.00295,"type":"quantitative","axis":null}}},
     {"data":{"values":[{}]},"mark":{"type":"text","text":"= 2 T","fontSize":10,"align":"left","baseline":"middle"},
      "encoding":{"x":{"datum":0.545,"type":"quantitative","axis":null},"y":{"datum":0.00295,"type":"quantitative","axis":null}}},
     {"data":{"values":[{}]},"mark":{"type":"point","shape":"circle","filled":false,"size":22,"strokeWidth":1.2,"color":"#ff2424"},
      "encoding":{"x":{"datum":0.3,"type":"quantitative","axis":null},"y":{"datum":0.00027,"type":"quantitative","axis":null}}},
     {"data":{"values":[{}]},"mark":{"type":"text","text":"H","fontSize":10,"fontStyle":"italic","align":"left","baseline":"middle"},
      "encoding":{"x":{"datum":0.374,"type":"quantitative","axis":null},"y":{"datum":0.00027,"type":"quantitative","axis":null}}},
     {"data":{"values":[{}]},"mark":{"type":"text","text":"= 0 T","fontSize":10,"align":"left","baseline":"middle"},
      "encoding":{"x":{"datum":0.48,"type":"quantitative","axis":null},"y":{"datum":0.00027,"type":"quantitative","axis":null}}}
   ]}
  ],
  "resolve":{"scale":{"x":"independent","y":"independent"}}
 },
 {
  "width":255,"height":205,
  "layer":[
   {"data":{"name":"b"},
    "mark":{"type":"line","strokeWidth":0.8,"point":{"shape":"square","filled":false,"size":10,"strokeWidth":0.9}},
    "encoding":{
     "x":{"field":"E","type":"quantitative","scale":{"domain":[-0.015,2],"nice":false,"zero":false},
          "axis":{"orient":"bottom","values":[0,0.1,0.2,0.3,0.4,0.5,0.6,0.7,0.8,0.9,1.0,1.1,1.2,1.3,1.4,1.5,1.6,1.7,1.8,1.9,2.0],"labelExpr":"abs(datum.value*2-round(datum.value*2))<0.001 ? (datum.value==2 ? '2' : format(datum.value,'.1f')) : ''","tickSize":{"condition":{"test":"abs(datum.value*2-round(datum.value*2))<0.001","value":-6},"value":-3},"labelPadding":9,"labelFontSize":13,"title":"E (meV)","titleFontSize":20,"titleY":31.5,"titleBaseline":"alphabetic"}},
     "y":{"field":"I","type":"quantitative","scale":{"domain":[-2.05,8],"nice":false,"zero":false},
          "axis":{"orient":"left","values":[-2,-1,0,1,2,3,4,5,6,7,8],"labelExpr":"datum.value>=0 && datum.value<=6 && datum.value%2==0 ? format(datum.value,'d') : ''","tickSize":{"condition":{"test":"datum.value%2==0","value":-6},"value":-3},"labelPadding":8,"labelFontSize":16,"title":"Intensity (a. u.)","titleFontSize":20,"titleX":-12,"titleY":-27,"titleAngle":-90,"titleAlign":"center","titleBaseline":"alphabetic"}},
     "color":{"field":"s","type":"nominal","scale":{"domain":["0T","1T","2T","3T","4T","5T"],"range":["#000000","#ff2a2a","#66e61a","#2040ff","#c050e8","#70e8d8"]},"legend":null}}},
   {"data":{"values":[{}]},"mark":{"type":"text","text":"b","fontSize":18,"align":"center","baseline":"middle"},
    "encoding":{
     "x":{"datum":0.342,"type":"quantitative","axis":{"orient":"top","values":[0,0.1,0.2,0.3,0.4,0.5,0.6,0.7,0.8,0.9,1.0,1.1,1.2,1.3,1.4,1.5,1.6,1.7,1.8,1.9,2.0],"labels":false,"tickSize":{"condition":{"test":"abs(datum.value*2-round(datum.value*2))<0.001","value":-6},"value":-3},"title":null}},
     "y":{"datum":6.86,"type":"quantitative","axis":{"orient":"right","values":[-2,-1,0,1,2,3,4,5,6,7,8],"labels":false,"tickSize":{"condition":{"test":"datum.value%2==0","value":-6},"value":-3},"title":null}}}},
   {"data":{"values":[{}]},"mark":{"type":"text","text":"1T","fontSize":11,"align":"center","baseline":"middle"},
    "encoding":{"x":{"datum":0.087,"type":"quantitative","axis":null},"y":{"datum":7.16,"type":"quantitative","axis":null}}},
   {"data":{"values":[{}]},"mark":{"type":"text","text":"2T","fontSize":11,"align":"center","baseline":"middle"},
    "encoding":{"x":{"datum":0.217,"type":"quantitative","axis":null},"y":{"datum":6.16,"type":"quantitative","axis":null}}},
   {"data":{"values":[{}]},"mark":{"type":"text","text":"3T","fontSize":11,"align":"center","baseline":"middle"},
    "encoding":{"x":{"datum":0.29,"type":"quantitative","axis":null},"y":{"datum":5.06,"type":"quantitative","axis":null}}},
   {"data":{"values":[{}]},"mark":{"type":"text","text":"4T","fontSize":11,"align":"center","baseline":"middle"},
    "encoding":{"x":{"datum":0.415,"type":"quantitative","axis":null},"y":{"datum":4.74,"type":"quantitative","axis":null}}},
   {"data":{"values":[{}]},"mark":{"type":"text","text":"5T","fontSize":11,"align":"center","baseline":"middle"},
    "encoding":{"x":{"datum":0.56,"type":"quantitative","axis":null},"y":{"datum":4.41,"type":"quantitative","axis":null}}},
   {"data":{"values":[{}]},"mark":{"type":"text","text":"0T","fontSize":11,"align":"center","baseline":"middle"},
    "encoding":{"x":{"datum":0.145,"type":"quantitative","axis":null},"y":{"datum":-1.88,"type":"quantitative","axis":null}}},
   {"data":{"values":[{}]},"mark":{"type":"text","text":"T","fontSize":19,"fontStyle":"italic","align":"left","baseline":"middle"},
    "encoding":{"x":{"datum":1.186,"type":"quantitative","axis":null},"y":{"datum":6.42,"type":"quantitative","axis":null}}},
   {"data":{"values":[{}]},"mark":{"type":"text","text":"= 0.1 K","fontSize":19,"align":"left","baseline":"middle"},
    "encoding":{"x":{"datum":1.304,"type":"quantitative","axis":null},"y":{"datum":6.42,"type":"quantitative","axis":null}}}
  ]
 }
]
}
